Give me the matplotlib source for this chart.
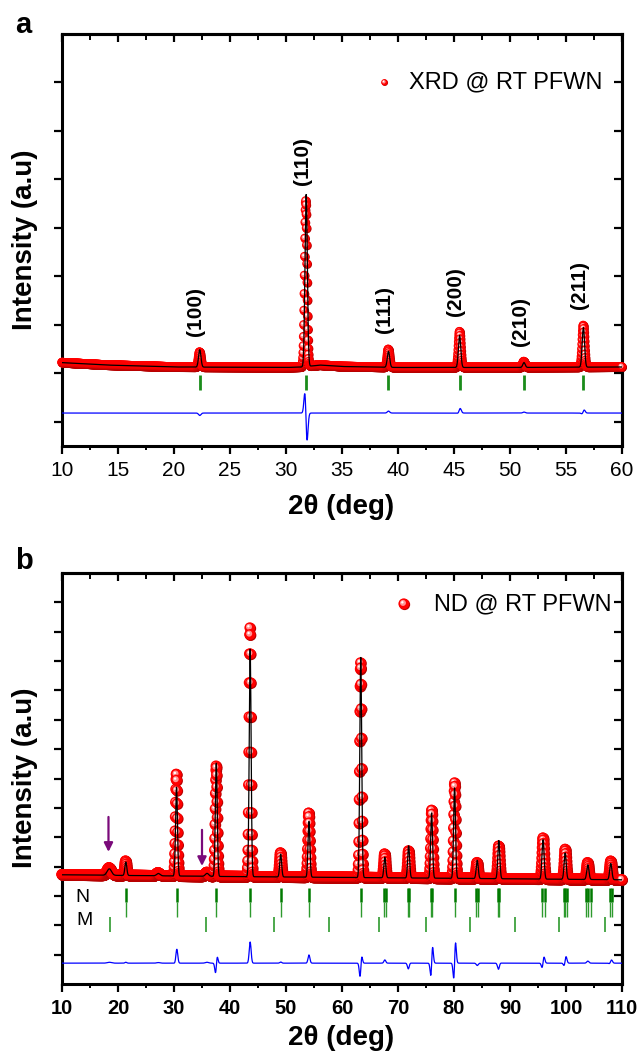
import numpy as np
import matplotlib
matplotlib.use("Agg")
import matplotlib.pyplot as plt
from matplotlib.ticker import MultipleLocator, FixedLocator

plt.rcParams['font.family'] = ['Liberation Sans', 'DejaVu Sans']

# ---------------- Panel a : XRD data ----------------
xrd_step = 0.02
xrd_pos = [22.3, 31.8, 39.15, 45.5, 51.25, 56.55]
xrd_hkl = ['(100)', '(110)', '(111)', '(200)', '(210)', '(211)']
xrd_obs_h = [0.31, 3.42, 0.37, 0.74, 0.12, 0.86]
xrd_calc_h = [0.36, 3.55, 0.33, 0.66, 0.10, 0.82]
xrd_shift = [0.0, -0.024, 0.0, 0.008, 0.0, 0.007]
xrd_fwhm = [0.25, 0.25, 0.25, 0.25, 0.25, 0.25]
xrd_bg_x = [10, 14, 20, 30, 31.5, 33, 35, 40, 50, 60]
xrd_bg_y = [1.22, 1.17, 1.13, 1.12, 1.13, 1.17, 1.14, 1.12, 1.12, 1.13]
xrd_diff_offset = 0.18

# ---------------- Panel b : ND data ----------------
nd_step = 0.04
nd_pos = [18.45, 21.4, 27.2, 30.45, 35.9, 37.55, 43.6, 49.05, 54.1, 63.35,
          67.65, 71.9, 76.0, 80.1, 84.15, 88.0, 95.9, 99.85, 103.9, 108.0]
nd_obs_h = [0.25, 0.49, 0.10, 3.48, 0.13, 3.76, 8.47, 0.82, 2.19, 7.31,
            0.81, 0.92, 2.32, 3.25, 0.54, 1.11, 1.40, 1.02, 0.57, 0.63]
nd_calc_h = [0.22, 0.46, 0.08, 3.03, 0.10, 3.86, 7.75, 0.78, 1.91, 7.51,
             0.70, 1.10, 2.22, 3.10, 0.62, 1.30, 1.35, 0.90, 0.50, 0.55]
nd_shift = [0.0, 0.0, 0.0, 0.008, 0.0, 0.019, 0.0, 0.0, 0.0, 0.012,
            0.0, 0.013, 0.059, 0.053, 0.0, 0.013, 0.039, 0.045, 0.0, 0.027]
nd_fwhm = [0.9, 0.4, 0.7, 0.4, 0.7, 0.4, 0.4, 0.4, 0.4, 0.4,
           0.4, 0.4, 0.4, 0.4, 0.42, 0.42, 0.44, 0.44, 0.46, 0.46]
nd_bg_x = [10, 20, 40, 60, 80, 110]
nd_bg_y = [3.72, 3.70, 3.66, 3.63, 3.60, 3.55]
nd_diff_offset = 0.71
nuc_ticks = [21.4, 30.45, 37.55, 43.6, 49.05, 54.1, 63.35, 67.5, 67.8, 71.8, 72.05,
             75.9, 76.1, 80.1, 84.0, 84.3, 87.9, 88.1, 95.7, 96.2, 99.6, 99.85,
             100.1, 103.6, 103.95, 104.4, 107.9, 108.2]
mag_ticks = [18.5, 35.7, 47.8, 57.7, 66.6, 75.0, 82.9, 90.9, 98.8, 106.9]
arrow_x = [18.3, 35.0]
arrow_top = [5.69, 5.25]
arrow_bot = [4.50, 4.02]


def profile(x, pos, h, fwhm, shift, bgx, bgy):
    y = np.interp(x, bgx, bgy)
    for p, hh, w, s in zip(pos, h, fwhm, shift):
        sig = w / 2.3548
        y = y + hh * np.exp(-0.5 * ((x - p - s) / sig) ** 2)
    return y


def balls(ax, x, y, d_px, zorder=3):
    """3-D looking balls, drawn point after point (each covers the previous)."""
    fig = ax.figure
    fig.canvas.draw()
    x0, x1 = ax.get_xlim()
    y0, y1 = ax.get_ylim()
    bb = ax.get_window_extent()
    sx = (x1 - x0) / bb.width
    sy = (y1 - y0) / bb.height
    x = np.asarray(x, float); y = np.asarray(y, float)
    n = len(x)
    dpt = d_px * 72.0 / fig.dpi
    offs = [(0.04, -0.04), (-0.03, 0.03), (-0.1, 0.1), (-0.15, 0.15)]
    fr = [0.92, 0.90, 0.5, 0.2]
    colr = [[0.72, 0, 0, 1], [1, 0, 0, 1], [1, 0.58, 0.58, 1], [1, 1, 1, 1]]
    k = len(fr)
    xs = np.empty(k * n); ys = np.empty(k * n)
    for i, (ox, oy) in enumerate(offs):
        xs[i::k] = x + ox * d_px * sx
        ys[i::k] = y + oy * d_px * sy
    sizes = np.tile([(f * dpt) ** 2 for f in fr], n)
    cols = np.tile(colr, (n, 1))
    ax.scatter(xs, ys, s=sizes, c=cols, linewidths=0, zorder=zorder, clip_on=False)


def style_axes(ax, xmaj, xmin, yticks, bold_labels):
    for sp in ax.spines.values():
        sp.set_linewidth(2.2)
    ax.xaxis.set_major_locator(MultipleLocator(xmaj))
    ax.xaxis.set_minor_locator(MultipleLocator(xmin))
    ax.yaxis.set_major_locator(FixedLocator(yticks))
    ax.tick_params(axis='x', which='major', direction='out', length=6, width=1.6,
                   labelsize=15, pad=5, top=False)
    ax.tick_params(axis='x', which='minor', direction='out', length=3, width=1.4, top=False)
    ax.tick_params(axis='y', which='major', direction='out', length=6, width=1.6,
                   labelleft=False, right=False)
    if bold_labels:
        for t in ax.get_xticklabels():
            t.set_fontweight('bold')
    top = ax.secondary_xaxis('top')
    top.xaxis.set_major_locator(MultipleLocator(xmaj))
    top.xaxis.set_minor_locator(MultipleLocator(xmin))
    top.tick_params(axis='x', which='major', direction='in', length=6, width=1.6, labeltop=False)
    top.tick_params(axis='x', which='minor', direction='in', length=4, width=1.4)
    top.spines['top'].set_linewidth(2.2)
    right = ax.secondary_yaxis('right')
    right.yaxis.set_major_locator(FixedLocator(yticks))
    right.tick_params(axis='y', which='major', direction='in', length=6, width=1.6, labelright=False)
    right.spines['right'].set_linewidth(2.2)


W, H = 643, 1054
fig = plt.figure(figsize=(W / 100, H / 100), dpi=100)

# ---------------- Panel a ----------------
axa = fig.add_axes([62 / W, 1 - 446 / H, 560 / W, 412 / H])
axa.set_xlim(10, 60)
axa.set_ylim(-0.5, 8.0)
style_axes(axa, 5, 2.5, list(range(0, 8)), False)

xa = np.arange(10, 60 + xrd_step / 2, xrd_step)
obs_a = profile(xa, xrd_pos, xrd_obs_h, xrd_fwhm, xrd_shift, xrd_bg_x, xrd_bg_y)
calc_a = profile(xa, xrd_pos, xrd_calc_h, xrd_fwhm, [0] * len(xrd_pos), xrd_bg_x, xrd_bg_y)
balls(axa, xa, obs_a, 10)
axa.plot(xa, calc_a, color='black', lw=0.9, zorder=4)
axa.plot(xa, obs_a - calc_a + xrd_diff_offset, color='#0000ff', lw=0.9, zorder=4)
axa.vlines(xrd_pos, 0.66, 0.97, color='#1a8c1a', lw=2.0, zorder=4)
for p, lab, h, bgv in zip(xrd_pos, xrd_hkl, xrd_obs_h, np.interp(xrd_pos, xrd_bg_x, xrd_bg_y)):
    axa.text(p - 0.35, bgv + h + 0.83, lab, rotation=90, ha='center', va='center',
             fontsize=15, fontweight='bold')
balls(axa, [38.8], [7.0], 7, zorder=6)
axa.text(40.98, 7.0, 'XRD @ RT PFWN', fontsize=17, ha='left', va='center', zorder=6)

# ---------------- Panel b ----------------
axb = fig.add_axes([62 / W, 1 - 984 / H, 560 / W, 411 / H])
axb.set_xlim(10, 110)
axb.set_ylim(0, 14)
style_axes(axb, 10, 5, list(range(1, 14)), True)
axb.tick_params(axis='x', which='major', labelsize=14.5)

xb = np.arange(10, 110 + nd_step / 2, nd_step)
obs_b = profile(xb, nd_pos, nd_obs_h, nd_fwhm, nd_shift, nd_bg_x, nd_bg_y)
calc_b = profile(xb, nd_pos, nd_calc_h, nd_fwhm, [0] * len(nd_pos), nd_bg_x, nd_bg_y)
balls(axb, xb, obs_b, 12)
axb.plot(xb, calc_b, color='black', lw=0.9, zorder=4)
axb.plot(xb, obs_b - calc_b + nd_diff_offset, color='#0000ff', lw=0.9, zorder=4)
axb.vlines(nuc_ticks, 2.28, 2.8, color='#2e9a2e', lw=1.0, zorder=4)
axb.vlines(nuc_ticks, 2.8, 3.28, color='#007a00', lw=1.8, zorder=4)
axb.vlines(mag_ticks, 1.77, 2.28, color='#2e9a2e', lw=1.2, zorder=4)
axb.text(13.6, 2.96, 'N', fontsize=14, ha='center', va='center')
axb.text(14.0, 2.15, 'M', fontsize=14, ha='center', va='center')
for ax_, at, ab in zip(arrow_x, arrow_top, arrow_bot):
    axb.annotate('', xy=(ax_, ab), xytext=(ax_, at),
                 arrowprops=dict(arrowstyle='-|>', color='#7a0a7a', lw=1.6,
                                 mutation_scale=13, shrinkA=0, shrinkB=0), zorder=7)
balls(axb, [71.1], [12.94], 12, zorder=6)
axb.text(76.4, 12.94, 'ND @ RT PFWN', fontsize=17, ha='left', va='center', zorder=6)

# ---------------- labels ----------------
fig.text(23 / W, 1 - 25 / H, 'a', fontsize=21, fontweight='bold', ha='center', va='center')
fig.text(24 / W, 1 - 561 / H, 'b', fontsize=21, fontweight='bold', ha='center', va='center')
for yc in (240, 778):
    fig.text(25 / W, 1 - yc / H, 'Intensity (a.u)', rotation=90, fontsize=20,
             fontweight='bold', ha='center', va='center')
for yc in (507, 1038):
    fig.text(341 / W, 1 - yc / H, '2θ (deg)', fontsize=20, fontweight='bold',
             ha='center', va='center')

fig.savefig('out.png', dpi=100)
